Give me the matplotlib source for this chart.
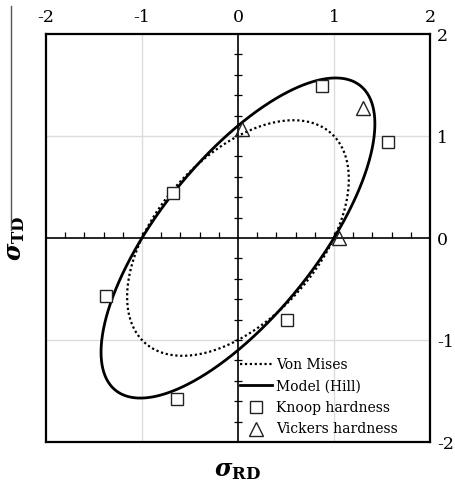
import numpy as np
import matplotlib
matplotlib.use("Agg")
import matplotlib.pyplot as plt
from matplotlib.lines import Line2D
from matplotlib.markers import TICKUP

plt.rcParams['font.family'] = 'DejaVu Serif'
plt.rcParams['mathtext.fontset'] = 'dejavuserif'

# yield loci coefficients: A*sx^2 + B*sy^2 - 2*C*sx*sy = 1
hill_A = 1.0
hill_B = 0.826
hill_C = 0.648
mises_A = 1.0
mises_B = 1.0
mises_C = 0.5

# measured normalised stresses
knoop_rd = [0.88, 1.56, -0.68, -1.37, 0.51, -0.64]
knoop_td = [1.49, 0.94, 0.44, -0.57, -0.80, -1.58]
vickers_rd = [0.04, 1.30, 1.05]
vickers_td = [1.07, 1.27, 0.0]

tick_vals = [-2, -1, 0, 1, 2]
tick_labels = ['-2', '-1', '0', '1', '2']


def locus(A, B, C, n=720):
    th = np.linspace(0, 2 * np.pi, n)
    c, s = np.cos(th), np.sin(th)
    r = 1.0 / np.sqrt(A * c**2 + B * s**2 - 2 * C * c * s)
    return r * c, r * s


fig = plt.figure(figsize=(4.55, 4.86), dpi=100)
ax = fig.add_axes([0.101, 0.0905, 0.844, 0.8395])

ax.set_xlim(-2, 2)
ax.set_ylim(-2, 2)

for v in (-1, 1):
    ax.axvline(v, color='#dcdcdc', lw=1.0, zorder=0)
    ax.axhline(v, color='#dcdcdc', lw=1.0, zorder=0)
ax.axhline(0, color='black', lw=1.2, zorder=1)
ax.axvline(0, color='black', lw=1.2, zorder=1)

minor = np.round(np.arange(-1.8, 1.81, 0.2), 2)
minor = minor[np.abs(minor) > 1e-9]
ax.plot(minor, np.zeros_like(minor), ls='none', marker=TICKUP, ms=4,
        mec='black', mew=0.9, zorder=1)
ax.plot(np.zeros_like(minor), minor, ls='none', marker='_', ms=6,
        mec='black', mew=0.9, zorder=1)

mx, my = locus(mises_A, mises_B, mises_C)
hx, hy = locus(hill_A, hill_B, hill_C)
ax.plot(mx, my, color='black', lw=1.6, ls=(0, (1, 1.2)), label='Von Mises', zorder=3)
ax.plot(hx, hy, color='black', lw=2.0, label='Model (Hill)', zorder=3)
ax.plot(knoop_rd, knoop_td, ls='none', marker='s', ms=8.5, mfc='white',
        mec='#222222', mew=1.0, label='Knoop hardness', zorder=4)
ax.plot(vickers_rd, vickers_td, ls='none', marker='^', ms=10, mfc='none',
        mec='#222222', mew=1.0, label='Vickers hardness', zorder=4)

ax.set_xticks(tick_vals)
ax.set_xticklabels(tick_labels)
ax.set_yticks(tick_vals)
ax.set_yticklabels(tick_labels)
ax.xaxis.tick_top()
ax.yaxis.tick_right()
ax.tick_params(length=0, labelsize=12.5, pad=6)
ax.tick_params(axis='y', pad=5)

for sp in ax.spines.values():
    sp.set_linewidth(1.6)

leg = ax.legend(loc='lower left', bbox_to_anchor=(0.49, 0.0), frameon=False,
                fontsize=10, handlelength=2.3, handletextpad=0.3,
                labelspacing=0.55, borderaxespad=0.2, borderpad=0.2)

ax.set_xlabel(r'$\boldsymbol{\sigma}_{\mathbf{RD}}$', fontsize=17, labelpad=12)
ax.set_ylabel(r'$\boldsymbol{\sigma}_{\mathbf{TD}}$', fontsize=17, labelpad=14)
ax.xaxis.set_label_position('bottom')
ax.yaxis.set_label_position('left')

fig.add_artist(Line2D([11 / 455, 11 / 455], [1 - 6 / 486, 1 - 230 / 486],
                      transform=fig.transFigure, color='#555555', lw=1.0))

fig.savefig('out.png', dpi=100)
